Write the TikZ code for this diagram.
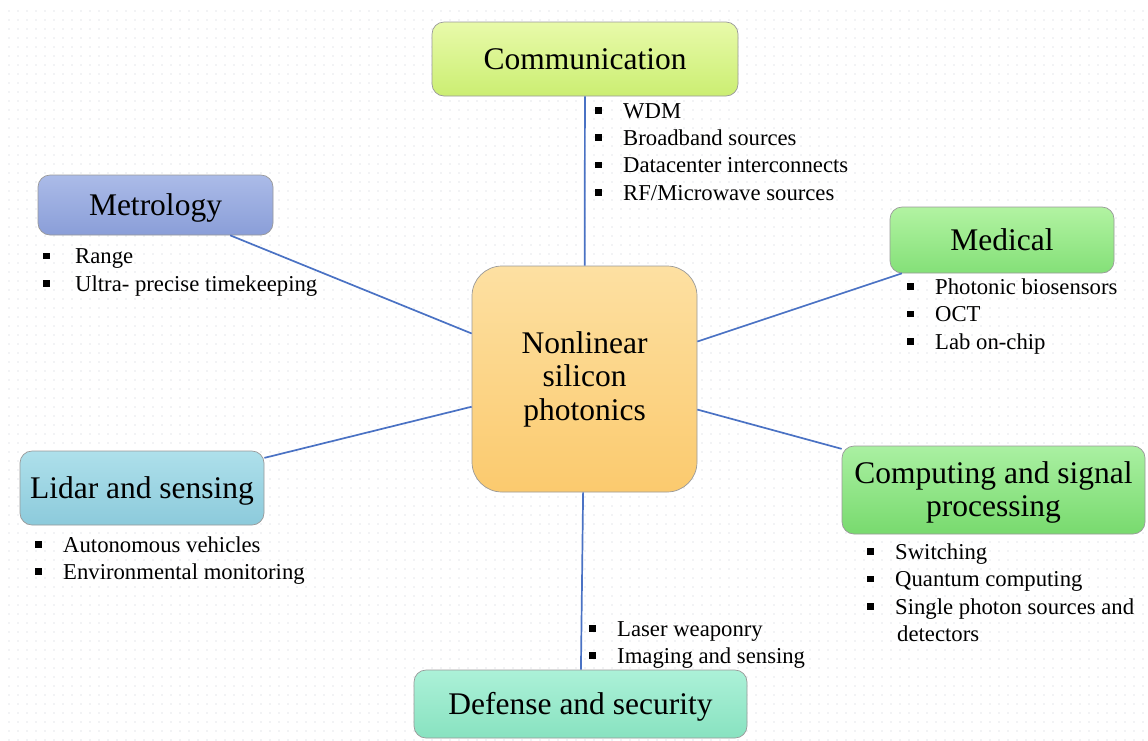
\documentclass[tikz,border=0pt]{standalone}
\usepackage{fontspec}
\setmainfont{Liberation Serif}
\usetikzlibrary{patterns.meta}
\definecolor{conn}{HTML}{4A72C4}
\definecolor{dotc}{RGB}{200,204,214}
\definecolor{commT}{HTML}{E8FAAA}\definecolor{commB}{HTML}{CBEE72}
\definecolor{metT}{HTML}{ABBBE8}\definecolor{metB}{HTML}{8A9ED8}
\definecolor{medT}{HTML}{B2F3A2}\definecolor{medB}{HTML}{84E078}
\definecolor{cenT}{HTML}{FDE0A2}\definecolor{cenB}{HTML}{FBCA6E}
\definecolor{lidT}{HTML}{AEE0EB}\definecolor{lidB}{HTML}{8CCADB}
\definecolor{comT}{HTML}{AAF0A2}\definecolor{comB}{HTML}{78DA6E}
\definecolor{defT}{HTML}{ACF1D8}\definecolor{defB}{HTML}{88E2C0}
\newcommand\bul[1][28pt]{\makebox[#1][l]{\rule[4.5pt]{6.5pt}{6.5pt}}}
\tikzset{
  box/.style={draw=black!40, line width=0.7pt, rounded corners=12pt, inner sep=0pt, align=center},
  title/.style={font=\fontsize{31.5}{34}\selectfont, text height=21pt, text depth=0pt},
  mtitle/.style={font=\fontsize{31.5}{33}\selectfont},
  item/.style={anchor=base west, inner sep=0pt, font=\fontsize{22.7}{27}\selectfont},
  link/.style={draw=conn, line width=1.7pt},
}
\begin{document}
\begin{tikzpicture}[x=1pt,y=-1pt]
\useasboundingbox (0,0) rectangle (1148,740);
\fill[white] (0,0) rectangle (1148,740);
\fill[pattern={Dots[radius=0.7pt,distance=9pt]}, pattern color=dotc] (5,10) rectangle (1148,740);

% boxes
\node[box, minimum width=225pt, minimum height=226pt, rounded corners=30pt,
      top color=cenT, bottom color=cenB, font=\fontsize{31.5}{33.5}\selectfont] (center) at (584.5,379) {Nonlinear\\silicon\\photonics};
\node[box, title, minimum width=306pt, minimum height=74pt, top color=commT, bottom color=commB] (comm) at (585,59) {Communication};
\node[box, title, minimum width=235pt, minimum height=60pt, top color=metT, bottom color=metB] (metro) at (155.5,205) {Metrology};
\node[box, title, minimum width=224pt, minimum height=66pt, top color=medT, bottom color=medB] (med) at (1002,240) {Medical};
\node[box, title, minimum width=244pt, minimum height=74pt, top color=lidT, bottom color=lidB] (lidar) at (142,488) {Lidar and sensing};
\node[box, mtitle, minimum width=303pt, minimum height=88pt, top color=comT, bottom color=comB] (comp) at (993.5,490) {\rule{0pt}{27pt}Computing and signal\\processing};
\node[box, title, minimum width=333pt, minimum height=68pt, top color=defT, bottom color=defB] (def) at (580.5,704) {Defense and security};

% connectors
\draw[link] (center) -- (comm);
\draw[link] (center) -- (metro);
\draw[link] (center) -- (med);
\draw[link] (center) -- (lidar);
\draw[link] (center) -- (comp);
\draw[link] (center) -- (def);

% lists
\node[item] (c1) at (595,118) {\bul WDM};
\node[item] (c2) at (595,145.3) {\bul Broadband sources};
\node[item] (c3) at (595,172.6) {\bul Datacenter interconnects};
\node[item] (c4) at (595,200) {\bul RF/Microwave sources};

\node[item] (m1) at (43,263.5) {\bul[32pt]Range};
\node[item] (m2) at (43,291) {\bul[32pt]Ultra- precise timekeeping};

\node[item] (d1) at (907,294) {\bul Photonic biosensors};
\node[item] (d2) at (907,321.5) {\bul OCT};
\node[item] (d3) at (907,349) {\bul Lab on-chip};

\node[item] (p1) at (867,559) {\bul Switching};
\node[item] (p2) at (867,586.5) {\bul Quantum computing};
\node[item] (p3) at (867,614) {\bul Single photon sources and};
\node[item] (p4) at (897,641) {detectors};

\node[item] (l1) at (35,552) {\bul Autonomous vehicles};
\node[item] (l2) at (35,579) {\bul Environmental monitoring};

\node[item] (s1) at (589,636) {\bul Laser weaponry};
\node[item] (s2) at (589,663) {\bul Imaging and sensing};
\end{tikzpicture}
\end{document}
